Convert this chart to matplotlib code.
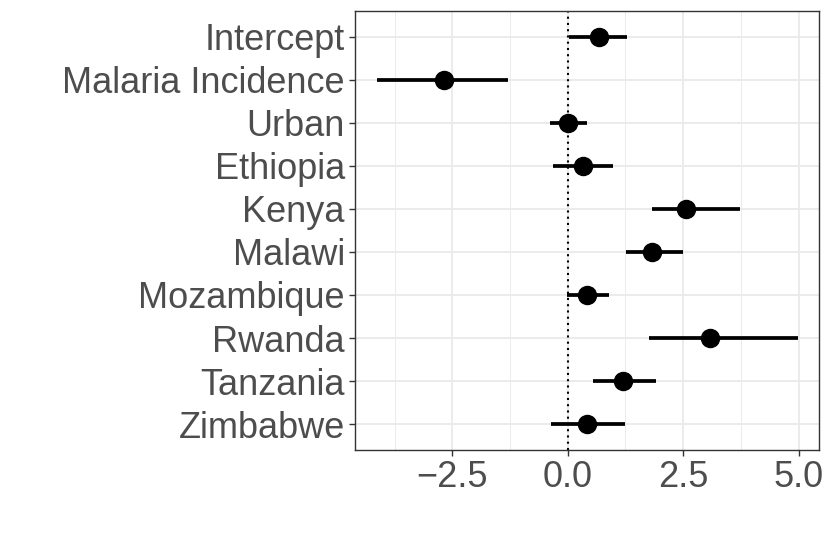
import matplotlib
matplotlib.use("Agg")
import matplotlib.pyplot as plt
import numpy as np

terms = ["Intercept", "Malaria Incidence", "Urban", "Ethiopia", "Kenya",
         "Malawi", "Mozambique", "Rwanda", "Tanzania", "Zimbabwe"]
estimate = [0.68, -2.69, 0.00, 0.32, 2.56, 1.82, 0.42, 3.08, 1.19, 0.41]
ci_low = [0.03, -4.13, -0.38, -0.31, 1.82, 1.26, -0.02, 1.75, 0.55, -0.36]
ci_high = [1.29, -1.30, 0.41, 0.97, 3.73, 2.50, 0.89, 4.99, 1.91, 1.24]
x_ticks = [-2.5, 0.0, 2.5, 5.0]
x_tick_labels = ["\u22122.5", "0.0", "2.5", "5.0"]
x_minor = [-3.75, -1.25, 1.25, 3.75]

plt.rcParams['font.family'] = ['Liberation Sans', 'DejaVu Sans']

fig = plt.figure(figsize=(8.3, 5.54), dpi=100)
ax = fig.add_axes([355.3/830, 1-450/554, (819-355.3)/830, (450-10.7)/554])

n = len(terms)
ypos = np.arange(n)[::-1]

grid_c = "#EBEBEB"
for xv in x_ticks:
    ax.axvline(xv, color=grid_c, lw=1.4, zorder=0)
for xv in x_minor:
    ax.axvline(xv, color=grid_c, lw=0.7, zorder=0)
for yv in ypos:
    ax.axhline(yv, color=grid_c, lw=1.4, zorder=0)

ax.axvline(0, color="black", lw=1.5, ls=(0, (1, 2.0)), zorder=1)
ax.hlines(ypos, ci_low, ci_high, color="black", lw=2.7, zorder=2)
ax.plot(estimate, ypos, "o", color="black", ms=13, zorder=3)

ax.set_xlim(-4.60, 5.44)
ax.set_ylim(-0.6, n - 1 + 0.6)
ax.set_xticks(x_ticks)
ax.set_xticklabels(x_tick_labels)
ax.set_yticks(ypos)
ax.set_yticklabels(terms)
ax.tick_params(axis='both', labelsize=26, labelcolor="#4D4D4D", color="#333333",
               length=4.5, width=1.0, pad=3)
for s in ax.spines.values():
    s.set_color("#333333")
    s.set_linewidth(1.0)

fig.savefig("out.png", dpi=100)
